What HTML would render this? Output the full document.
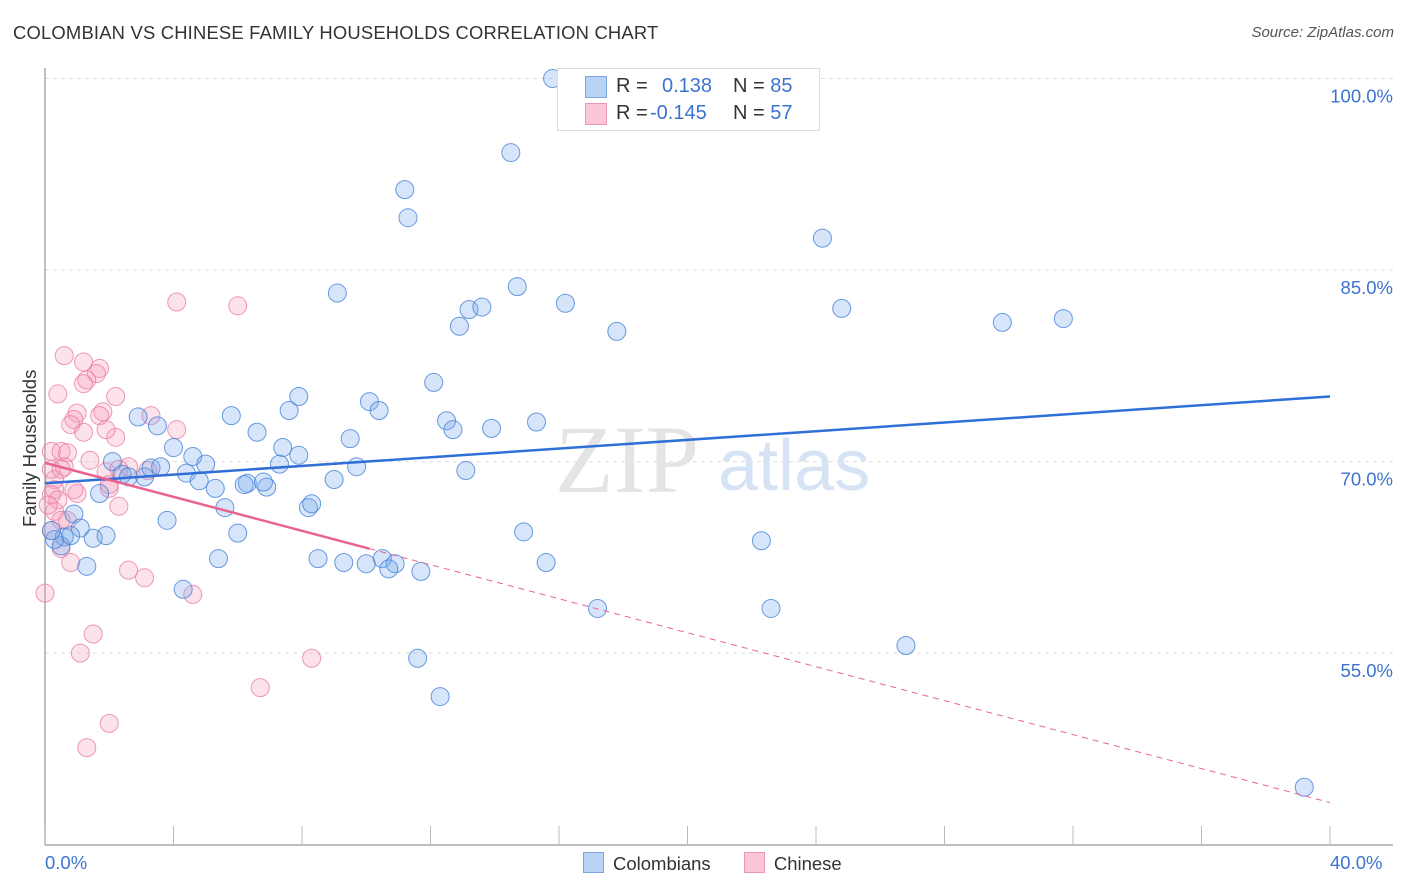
<!DOCTYPE html>
<html><head><meta charset="utf-8">
<style>
body{margin:0;background:#fff;font-family:"Liberation Sans",sans-serif;}
#wrap{position:relative;width:1406px;height:892px;overflow:hidden;}
.t{position:absolute;white-space:nowrap;}
</style></head>
<body>
<div id="wrap">
<div class="t" style="left:13px;top:22px;font-size:18.4px;color:#333;letter-spacing:0.2px">COLOMBIAN VS CHINESE FAMILY HOUSEHOLDS CORRELATION CHART</div>
<div class="t" style="right:12px;top:24px;font-size:15px;color:#555;font-style:italic">Source: ZipAtlas.com</div>
<svg id="svg" width="1406" height="892" style="position:absolute;left:0;top:0"></svg>
</div>
<script>
const xTicks=[0,4,8,12,16,20,24,28,32,36,40];
const yTicks=[100,85,70,55];
const yTickLabels=["100.0%","85.0%","70.0%","55.0%"];
const blueX=[15.8,14.5,11.2,11.3,24.2,9.1,14.7,16.2,13.2,13.6,12.9,17.8,24.8,29.8,31.7,12.1,7.9,10.1,7.6,10.4,5.8,2.9,3.5,12.5,12.7,13.9,15.3,6.6,9.5,4.0,7.4,7.9,4.6,2.1,3.3,3.6,5.0,7.3,9.7,13.1,4.4,3.1,2.4,2.6,4.8,9.0,6.3,6.2,6.9,6.8,5.3,1.7,8.2,8.3,5.6,0.9,1.1,3.8,14.9,6.0,0.6,1.5,1.9,0.5,0.3,1.3,5.4,8.5,9.3,10.0,10.5,10.9,10.7,11.7,15.6,22.3,4.3,17.2,22.6,26.8,11.6,12.3,39.2,0.2,0.8];
const blueY=[100.0,94.2,91.3,89.1,87.5,83.2,83.7,82.4,81.9,82.1,80.6,80.2,82.0,80.9,81.2,76.2,75.1,74.7,74.0,74.0,73.6,73.5,72.8,73.2,72.5,72.6,73.1,72.3,71.8,71.1,71.1,70.5,70.4,70.0,69.5,69.6,69.8,69.8,69.6,69.3,69.1,68.8,69.0,68.8,68.5,68.6,68.3,68.2,68.0,68.4,67.9,67.5,66.4,66.7,66.4,65.9,64.8,65.4,64.5,64.4,64.1,64.0,64.2,63.4,63.9,61.8,62.4,62.4,62.1,62.0,62.4,62.0,61.6,61.4,62.1,63.8,60.0,58.5,58.5,55.6,54.6,51.6,44.5,64.6,64.2];
const pinkX=[4.1,6.0,0.6,1.2,1.7,1.6,1.3,1.2,2.2,0.4,3.3,1.8,1.0,0.9,0.8,1.7,1.2,2.2,4.1,0.2,0.5,0.7,1.9,1.4,3.2,0.6,1.9,0.3,0.3,2.0,1.0,0.7,0.2,0.3,0.5,2.3,0.5,0.8,2.6,3.1,4.6,0.0,1.5,1.1,8.3,6.7,2.0,1.3,0.2,0.2,2.0,0.4,0.9,0.5,2.6,0.1,2.3];
const pinkY=[82.5,82.2,78.3,77.8,77.3,76.9,76.4,76.1,75.1,75.3,73.6,73.9,73.8,73.3,72.9,73.6,72.3,71.9,72.5,70.8,70.8,70.7,72.5,70.1,69.3,69.6,69.2,68.6,67.8,67.9,67.5,65.4,67.4,66.1,65.4,66.5,63.2,62.1,61.5,60.9,59.6,59.7,56.5,55.0,54.6,52.3,49.5,47.6,64.6,69.4,68.2,67.0,67.8,69.4,69.6,66.6,69.4];
const blueTrend=[68.3,75.1];
const pinkTrend=[69.9,43.3];
const pinkSolidEnd=10.1;

const NS="http://www.w3.org/2000/svg";
const svg=document.getElementById('svg');
const X=v=>45+v*32.125;
const Y=v=>78.5+(100-v)*12.77;
function mk(tag,attrs,parent){const e=document.createElementNS(NS,tag);for(const k in attrs)e.setAttribute(k,attrs[k]);(parent||svg).appendChild(e);return e;}

yTicks.forEach((v,i)=>{
  const g=mk('line',{x1:45,x2:1393,y1:Y(v),y2:Y(v),stroke:'#ddd','stroke-dasharray':'4,4'});
  
  
  const t=mk('text',{x:1393,y:Y(v)+24,'text-anchor':'end','font-size':18.5,fill:'#3d73d0','font-family':'Liberation Sans, sans-serif'});
  t.textContent=yTickLabels[i];
  
  
});
const ya=mk('line',{x1:45,x2:45,y1:68,y2:845,stroke:'#aaa','stroke-width':1.5});


const xa=mk('line',{x1:45,x2:1393,y1:845,y2:845,stroke:'#aaa','stroke-width':1.5});


xTicks.forEach(v=>{
  const l=mk('line',{x1:X(v),x2:X(v),y1:826,y2:845,stroke:'#bbb'});
  
  
});
const wm=mk('text',{x:555,y:492,'font-size':96,fill:'#e4e4e4','font-family':'Liberation Serif, serif'});
wm.textContent='ZIP';


const wm2=mk('text',{x:718,y:490,'font-size':72,fill:'#d6e3f5','font-family':'Liberation Sans, sans-serif'});
wm2.textContent='atlas';



pinkX.forEach((x,i)=>{
  const c=mk('circle',{cx:X(x),cy:Y(pinkY[i]),r:9,fill:'rgba(244,160,188,0.3)',stroke:'rgba(232,120,158,0.75)','stroke-width':1});
  
  
});
blueX.forEach((x,i)=>{
  const c=mk('circle',{cx:X(x),cy:Y(blueY[i]),r:9,fill:'rgba(120,170,235,0.3)',stroke:'rgba(70,130,215,0.8)','stroke-width':1});
  
  
});
const bt=mk('line',{x1:X(0),y1:Y(blueTrend[0]),x2:X(40),y2:Y(blueTrend[1]),stroke:'#2f6fd6','stroke-width':2.5});


const pAt=v=>pinkTrend[0]+(pinkTrend[1]-pinkTrend[0])*v/40;
const pt=mk('line',{x1:X(0),y1:Y(pinkTrend[0]),x2:X(pinkSolidEnd),y2:Y(pAt(pinkSolidEnd)),stroke:'#e8648f','stroke-width':2.5});


const pd=mk('line',{x1:X(pinkSolidEnd),y1:Y(pAt(pinkSolidEnd)),x2:X(40),y2:Y(pinkTrend[1]),stroke:'#e8648f','stroke-width':1,'stroke-dasharray':'6,5'});


</script>
<div class="t" style="left:-40px;top:446px;font-size:18.5px;color:#333;transform:rotate(-90deg);transform-origin:center;width:140px;text-align:center">Family Households</div>
<div class="t" style="left:45px;top:852px;font-size:18.5px;color:#3d73d0">0.0%</div>
<div class="t" style="left:1330px;top:852px;font-size:18.5px;color:#3d73d0">40.0%</div>
<div style="position:absolute;left:583px;top:852px;font-size:18.5px;color:#333">
  <span style="display:inline-block"><span style="display:inline-block;width:19px;height:19px;background:#b9d3f5;border:1px solid #7aa5e0;vertical-align:-3px;margin-right:9px"></span>Colombians</span>
  <span style="display:inline-block;margin-left:28px"><span style="display:inline-block;width:19px;height:19px;background:#fbc6d6;border:1px solid #ec98b4;vertical-align:-3px;margin-right:9px"></span>Chinese</span>
</div>
<div style="position:absolute;left:557px;top:68px;width:261px;height:61px;border:1px solid #ddd;background:#fff;font-size:20px;color:#333">
  <div style="position:absolute;left:27px;top:7px;width:20px;height:20px;background:#b9d3f5;border:1px solid #7aa5e0"></div>
  <div style="position:absolute;left:58px;top:6px">R = </div>
  <div style="position:absolute;left:104px;top:6px;color:#3d73d0">0.138</div>
  <div style="position:absolute;left:175px;top:6px">N = <span style="color:#3d73d0">85</span></div>
  <div style="position:absolute;left:27px;top:34px;width:20px;height:20px;background:#fbc6d6;border:1px solid #ec98b4"></div>
  <div style="position:absolute;left:58px;top:33px">R = </div>
  <div style="position:absolute;left:92px;top:33px;color:#3d73d0">-0.145</div>
  <div style="position:absolute;left:175px;top:33px">N = <span style="color:#3d73d0">57</span></div>
</div>
</body></html>
